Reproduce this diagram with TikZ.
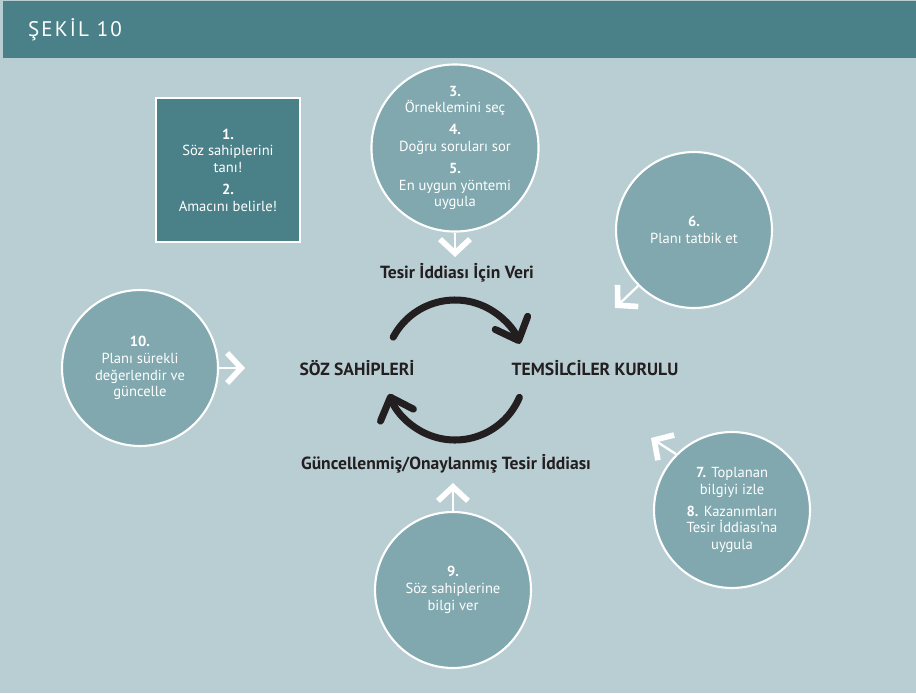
\documentclass[tikz,border=0pt]{standalone}
\usepackage{fontspec}
\setmainfont{PT Sans}
\usetikzlibrary{arrows.meta}
\definecolor{head}{RGB}{74,129,137}
\definecolor{bg}{RGB}{185,206,211}
\definecolor{disc}{RGB}{128,168,174}
\definecolor{ink}{RGB}{35,31,32}

\begin{document}
\begin{tikzpicture}[x=0.02cm,y=-0.02cm,
  stepdisc/.style={circle,draw=white,line width=1.2pt,fill=disc,
            minimum size=3.12cm,inner sep=0pt,text=white,align=center,
            font=\fontsize{8.3}{9.5}\selectfont},
  hub/.style={text=ink,font=\fontsize{10}{12}\selectfont\bfseries},
  wa/.style={white,line width=1.3pt,
            -{Straight Barb[sharp,length=0.28cm,width=0.6cm,line width=3.2pt]}},
  cyc/.style={ink,line width=4pt,line cap=round,
            -{Straight Barb[round,length=0.38cm,width=0.7cm]}}]
  % background and header
  \fill[bg] (0,0) rectangle (916,693);
  \fill[head] (3,1) rectangle (916,58);
  \node[anchor=west,text=white,
        font=\fontsize{12}{14}\selectfont\addfontfeatures{LetterSpace=10}] (title) at (22,30) {ŞEKİL 10};
  % steps
  \node[draw=white,line width=1.5pt,fill=head,minimum size=2.88cm,
        text=white,align=center,font=\fontsize{8.3}{9.5}\selectfont] (s12) at (228,170)
        {\textbf{1.}\\Söz sahiplerini\\tanı!\\[3pt]\textbf{2.}\\Amacını belirle!};
  \node[stepdisc,minimum size=3.18cm] (c35) at (455,148)
        {\textbf{3.}\\Örneklemini seç\\[3pt]\textbf{4.}\\Doğru soruları sor\\[3pt]\textbf{5.}\\En uygun yöntemi\\uygula};
  \node[stepdisc] (c6)  at (694,230) {\textbf{6.}\\Planı tatbik et};
  \node[stepdisc] (c78) at (732,510)
        {\textbf{7.} Toplanan\\bilgiyi izle\\[3pt]\textbf{8.} Kazanımları\\Tesir İddiası’na\\uygula};
  \node[stepdisc] (c9)  at (453,590) {\textbf{9.}\\Söz sahiplerine\\bilgi ver};
  \node[stepdisc] (c10) at (140,368) {\textbf{10.}\\Planı sürekli\\değerlendir ve\\güncelle};
  % hub labels
  \node[hub] (soz)  at (357,368) {SÖZ SAHİPLERİ};
  \node[hub] (tem)  at (595,368) {TEMSİLCİLER KURULU};
  \node[hub] (veri) at (457,273) {Tesir İddiası İçin Veri};
  \node[hub] (guncel) at (446,464) {Güncellenmiş/Onaylanmış Tesir İddiası};
  % white arrows
  \coordinate (t35) at (455,257);
  \coordinate (t6)  at (615,308);
  \coordinate (t78) at (651,438);
  \coordinate (t9)  at (453,483);
  \coordinate (t10) at (245,368);
  \draw[wa] (c35.south) -- (t35);
  \draw[wa] (c6.south west) -- (t6);
  \draw[wa] (c78.north west) -- (t78);
  \draw[wa] (c9.north) -- (t9);
  \draw[wa] (c10.east) -- (t10);
  % cycle
  \coordinate (hubc) at (455,370);
  \draw[cyc] ([shift={(152:1.4cm)}]hubc) arc[start angle=152,end angle=22,radius=1.4cm];
  \draw[cyc] ([shift={(-23:1.4cm)}]hubc) arc[start angle=-23,end angle=-160,radius=1.4cm];
\end{tikzpicture}
\end{document}
